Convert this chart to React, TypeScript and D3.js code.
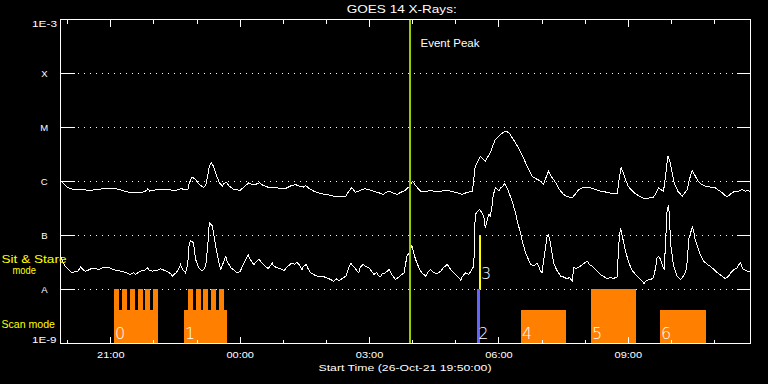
import React from "react";
import * as d3 from "d3";

// ---- data ----
const START = Date.UTC(2021, 9, 26, 19, 50, 0);
const DURATION_MIN = 960;

// GOES long channel (1-8 A), minutes since start / log10 W m^-2
const longMinutes = [0,4,10,18,25,32,39,46,56,63,70,79,86,93,102,109,115,120,121,124,132,139,146,153,157,163,168,173,177,179,183,188,193,199,202,205,207,210,213,217,221,225,227,231,234,241,246,250,256,262,267,271,277,282,288,292,299,306,313,320,327,331,334,338,341,346,352,358,365,373,380,390,397,401,405,408,410,415,419,423,429,435,442,449,454,458,463,468,473,479,485,490,494,498,501,508,515,520,526,531,538,544,551,559,565,570,573,575,577,582,584,589,591,594,598,601,605,612,616,620,625,629,633,639,645,650,656,661,668,672,675,679,683,689,694,700,705,712,717,721,726,733,737,744,751,758,765,775,776,780,783,786,790,798,804,812,818,825,829,832,836,839,842,845,848,851,854,859,865,868,872,875,879,882,887,892,897,904,911,915,921,924,928,932,937,941,943,948,953,957,960];
const longLogFlux = [-5.981,-6.037,-6.111,-6.148,-6.157,-6.148,-6.167,-6.157,-6.139,-6.135,-6.130,-6.139,-6.167,-6.194,-6.209,-6.204,-6.194,-6.167,-6.130,-6.176,-6.157,-6.148,-6.157,-6.157,-6.167,-6.157,-6.130,-6.157,-6.157,-6.037,-5.913,-5.963,-6.056,-6.111,-6.074,-5.889,-5.722,-5.654,-5.722,-5.889,-6.019,-6.087,-6.046,-6.013,-6.074,-6.148,-6.157,-6.161,-6.093,-6.024,-6.056,-6.056,-6.024,-6.074,-6.102,-6.106,-6.111,-6.130,-6.130,-6.083,-6.056,-6.083,-6.087,-6.102,-6.074,-6.130,-6.176,-6.209,-6.231,-6.250,-6.272,-6.272,-6.272,-6.185,-6.117,-6.157,-6.198,-6.176,-6.148,-6.135,-6.148,-6.180,-6.204,-6.241,-6.194,-6.180,-6.213,-6.241,-6.204,-6.167,-6.098,-5.994,-6.074,-6.139,-6.180,-6.194,-6.161,-6.185,-6.194,-6.176,-6.161,-6.185,-6.204,-6.241,-6.204,-6.189,-6.180,-5.963,-5.716,-5.593,-5.531,-5.593,-5.624,-5.556,-5.469,-5.352,-5.222,-5.130,-5.093,-5.068,-5.111,-5.204,-5.283,-5.426,-5.593,-5.741,-5.902,-5.944,-5.994,-6.056,-5.944,-5.809,-5.907,-6.024,-6.148,-6.241,-6.278,-6.302,-6.222,-6.148,-6.120,-6.117,-6.117,-6.148,-6.180,-6.194,-6.213,-6.228,-6.056,-5.746,-5.833,-5.963,-6.093,-6.209,-6.259,-6.320,-6.306,-6.291,-6.204,-6.117,-6.157,-6.180,-5.870,-5.531,-5.630,-5.839,-6.037,-6.180,-6.272,-6.222,-6.148,-5.963,-5.791,-5.870,-5.994,-6.056,-6.087,-6.102,-6.117,-6.157,-6.209,-6.250,-6.283,-6.231,-6.191,-6.194,-6.180,-6.148,-6.180,-6.167,-6.209];

// GOES short channel (0.5-4 A)
const shortMinutes = [0,3,6,9,13,16,21,24,28,31,35,39,43,49,54,58,63,67,71,77,82,86,90,95,97,102,104,109,114,118,121,124,128,132,136,139,145,150,153,156,159,161,164,167,170,174,177,179,181,185,188,192,197,199,202,205,207,211,216,220,223,225,230,232,237,241,246,250,255,261,264,269,273,276,280,285,289,295,296,301,306,311,316,322,326,329,333,336,338,342,345,348,352,357,360,365,369,373,377,380,384,387,390,394,397,401,404,408,412,415,417,421,424,429,433,436,440,442,445,448,452,457,461,463,466,470,473,478,480,482,486,489,491,494,498,501,504,508,512,515,519,524,529,533,538,543,547,551,557,559,564,568,571,575,577,580,583,586,589,591,593,596,598,601,602,605,608,610,612,615,618,621,624,629,633,636,640,643,647,651,654,659,663,665,668,670,672,677,679,682,686,690,696,700,705,708,712,714,718,723,728,733,736,740,744,751,755,761,765,769,775,776,779,782,786,790,795,800,807,812,815,821,825,828,830,832,835,838,840,842,844,846,847,849,853,858,863,867,870,872,874,879,881,883,886,890,895,900,904,909,914,921,925,929,934,937,942,943,946,949,951,956,960];
const shortLogFlux = [-7.383,-7.481,-7.556,-7.598,-7.657,-7.691,-7.661,-7.667,-7.580,-7.630,-7.661,-7.639,-7.611,-7.617,-7.630,-7.602,-7.598,-7.587,-7.620,-7.643,-7.657,-7.667,-7.680,-7.713,-7.722,-7.685,-7.722,-7.680,-7.648,-7.639,-7.598,-7.648,-7.661,-7.639,-7.639,-7.617,-7.648,-7.680,-7.704,-7.754,-7.704,-7.691,-7.630,-7.537,-7.630,-7.691,-7.537,-7.167,-7.093,-7.135,-7.444,-7.593,-7.661,-7.630,-7.569,-7.167,-6.765,-6.815,-7.198,-7.481,-7.630,-7.556,-7.383,-7.481,-7.598,-7.639,-7.691,-7.661,-7.519,-7.352,-7.444,-7.537,-7.481,-7.444,-7.500,-7.569,-7.611,-7.506,-7.556,-7.598,-7.611,-7.648,-7.574,-7.506,-7.537,-7.494,-7.556,-7.630,-7.574,-7.537,-7.630,-7.691,-7.722,-7.754,-7.769,-7.750,-7.783,-7.796,-7.824,-7.846,-7.806,-7.833,-7.815,-7.778,-7.754,-7.593,-7.519,-7.574,-7.648,-7.691,-7.593,-7.537,-7.565,-7.598,-7.667,-7.722,-7.685,-7.741,-7.765,-7.704,-7.691,-7.630,-7.722,-7.759,-7.815,-7.778,-7.741,-7.691,-7.537,-7.383,-7.296,-7.185,-7.296,-7.444,-7.574,-7.661,-7.704,-7.754,-7.667,-7.630,-7.685,-7.704,-7.661,-7.593,-7.537,-7.630,-7.691,-7.741,-7.828,-7.759,-7.691,-7.722,-7.661,-7.569,-6.611,-6.556,-6.519,-6.574,-6.643,-6.857,-6.741,-6.611,-6.643,-6.394,-6.259,-6.117,-6.148,-6.180,-6.117,-6.093,-6.043,-6.111,-6.209,-6.389,-6.580,-6.759,-6.950,-7.130,-7.320,-7.444,-7.537,-7.556,-7.506,-7.556,-7.661,-7.691,-7.481,-7.013,-6.981,-7.167,-7.506,-7.630,-7.754,-7.769,-7.802,-7.778,-7.846,-7.598,-7.611,-7.569,-7.519,-7.476,-7.537,-7.569,-7.630,-7.722,-7.754,-7.802,-7.778,-7.796,-7.765,-7.259,-6.857,-7.037,-7.278,-7.481,-7.639,-7.722,-7.815,-7.889,-7.833,-7.815,-7.783,-7.593,-7.413,-7.389,-7.444,-7.574,-7.630,-7.074,-6.519,-6.444,-6.611,-7.167,-7.569,-7.754,-7.815,-7.741,-7.661,-7.481,-7.074,-6.846,-6.926,-7.074,-7.185,-7.352,-7.476,-7.537,-7.565,-7.630,-7.691,-7.759,-7.796,-7.759,-7.667,-7.630,-7.598,-7.556,-7.506,-7.611,-7.630,-7.661,-7.676];

// y axis
const yLevels = [1e-3, 1e-4, 1e-5, 1e-6, 1e-7, 1e-8, 1e-9];
const yLabels = ["1E-3", "X", "M", "C", "B", "A", "1E-9"];

// observation blocks (minutes since start)
const scanLabels = ["0", "1", "4", "5", "6"];
const scanStarts = [75.1, 172.5, 641.4, 738.8, 834.8];
const scanEnds = [135.9, 232.3, 703.6, 801.0, 898.4];
const scanTall = [false, false, false, true, false];

// tall sub-intervals inside scans 0 and 1
const toothStarts = [75.1, 86.3, 97.4, 108.1, 118.7, 129.4, 178.1, 188.8, 199.4, 210.1, 221.2];
const toothEnds = [82.1, 93.2, 104.3, 115.1, 125.6, 135.9, 185.0, 195.8, 206.3, 217.0, 228.2];

const blueLabel = "2";
const blueStart = 580.6;
const blueEnd = 584.4;

const stareLabel = "3";
const stareStart = 583.0;
const stareEnd = 585.8;

const eventPeakMinute = 487;

const FONT = "'Liberation Sans', Arial, sans-serif";
const NUM_FONT = "'DejaVu Sans', 'Liberation Sans', sans-serif";

export default function App() {
  const W = 768, H = 384;
  const t = (m: number) => new Date(START + m * 60000);
  const x = d3.scaleUtc().domain([t(0), t(DURATION_MIN)]).range([60.5, 750.5]);
  const y = d3.scaleLog().domain([1e-9, 1e-3]).range([343.5, 19.5]);

  const line = d3
    .line<[number, number]>()
    .x((d) => x(t(d[0])))
    .y((d) => y(Math.pow(10, d[1])));

  const longPts = longMinutes.map((m, i) => [m, longLogFlux[i]] as [number, number]);
  const shortPts = shortMinutes.map((m, i) => [m, shortLogFlux[i]] as [number, number]);

  const hourTicks = x.ticks(d3.utcHour.every(1) as any);
  const majorTicks = x.ticks(d3.utcHour.every(3) as any);
  const isMajor = (d: Date) => d.getUTCHours() % 3 === 0;
  const fmt = d3.utcFormat("%H:%M");
  const startFmt = d3.utcFormat("%d-%b-%y %H:%M:%S");

  const left = 60.5, right = 750.5, top = 19.5, bottom = 343.5;
  const rowA = Math.floor(y(1e-8));
  const rowB = Math.floor(y(1e-7));
  const rowBottom = Math.floor(y(1e-9));
  const lowTop = rowA + 21;
  const px = (m: number) => Math.round(x(t(m)) - 0.5);

  return (
    <svg
      width={W}
      height={H}
      style={{ position: "absolute", left: 0, top: 0, background: "#000" }}
      fontFamily={FONT}
    >
      <rect x={0} y={0} width={W} height={H} fill="#000" />

      {/* grid dotted lines */}
      {yLevels.slice(1, -1).map((v, i) => (
        <line
          key={"g" + i}
          x1={78}
          x2={736}
          y1={y(v)}
          y2={y(v)}
          stroke="#fff"
          strokeWidth={1}
          strokeDasharray="1 5"
          shapeRendering="crispEdges"
        />
      ))}

      {/* scan blocks */}
      {scanLabels.map((lab, i) => {
        const x0 = px(scanStarts[i]);
        const x1 = px(scanEnds[i]);
        const yt = scanTall[i] ? rowA : lowTop;
        return (
          <rect key={"s" + i} x={x0} y={yt} width={x1 - x0} height={rowBottom - yt} fill="#ff8000" shapeRendering="crispEdges" />
        );
      })}
      {toothStarts.map((s, i) => {
        const x0 = px(s);
        const x1 = px(toothEnds[i]);
        return <rect key={"t" + i} x={x0} y={rowA} width={x1 - x0} height={lowTop - rowA} fill="#ff8000" shapeRendering="crispEdges" />;
      })}
      <rect x={px(blueStart)} y={rowA} width={px(blueEnd) - px(blueStart)} height={rowBottom - rowA} fill="#6464ff" shapeRendering="crispEdges" />
      <rect x={px(stareStart)} y={rowB} width={px(stareEnd) - px(stareStart)} height={rowA - rowB} fill="#ffff00" shapeRendering="crispEdges" />

      {/* block labels */}
      <g fontFamily={NUM_FONT} fontWeight={200}>
        {scanLabels.map((lab, i) => (
          <text key={"sl" + i} x={x(t(scanStarts[i])) + 0.5} y={339} fill="#fff" fontSize={16}>
            {lab}
          </text>
        ))}
        <text x={x(t(blueStart)) + 0.5} y={339} fill="#fff" fontSize={16}>
          {blueLabel}
        </text>
        <text x={x(t(stareStart)) + 1.5} y={278.5} fill="#fff" fontSize={16}>
          {stareLabel}
        </text>
      </g>

      {/* curves */}
      <path d={line(longPts) || ""} fill="none" stroke="#fff" strokeWidth={1} shapeRendering="crispEdges" />
      <path d={line(shortPts) || ""} fill="none" stroke="#fff" strokeWidth={1} shapeRendering="crispEdges" />

      {/* event peak */}
      <rect x={Math.floor(x(t(eventPeakMinute))) - 1} y={19} width={2} height={325} fill="#99cc00" shapeRendering="crispEdges" />
      <text x={420.5} y={46.7} fill="#fff" fontSize={10} textLength={59} lengthAdjust="spacingAndGlyphs">
        Event Peak
      </text>

      {/* axes box */}
      <line x1={left} x2={left} y1={top - 0.5} y2={bottom + 0.5} stroke="#fff" shapeRendering="crispEdges" />
      <line x1={right} x2={right} y1={top - 0.5} y2={bottom + 0.5} stroke="#fff" shapeRendering="crispEdges" />
      <line x1={left - 0.5} x2={right + 0.5} y1={top} y2={top} stroke="#fff" shapeRendering="crispEdges" />
      <line x1={left - 0.5} x2={right + 0.5} y1={bottom} y2={bottom} stroke="#fff" shapeRendering="crispEdges" />

      {/* y ticks */}
      {yLevels.map((v, i) => (
        <g key={"yt" + i}>
          <line x1={left} x2={left + 14} y1={y(v)} y2={y(v)} stroke="#fff" shapeRendering="crispEdges" />
          <line x1={right - 14} x2={right} y1={y(v)} y2={y(v)} stroke="#fff" shapeRendering="crispEdges" />
        </g>
      ))}
      {yLabels.map((lab, i) => {
        const v = yLevels[i];
        if (i === 0)
          return (
            <text key={"yl" + i} x={57} y={26.7} fill="#fff" fontSize={9.5} textAnchor="end" textLength={25} lengthAdjust="spacingAndGlyphs">
              {lab}
            </text>
          );
        if (i === yLabels.length - 1)
          return (
            <text key={"yl" + i} x={56.5} y={343.3} fill="#fff" fontSize={9.5} textAnchor="end" textLength={24.5} lengthAdjust="spacingAndGlyphs">
              {lab}
            </text>
          );
        return (
          <text key={"yl" + i} x={44.3} y={y(v) + 3.8} fill="#fff" fontSize={9.5} textAnchor="middle">
            {lab}
          </text>
        );
      })}

      {/* x ticks */}
      {hourTicks.map((d, i) => {
        const xx = x(d);
        const len = isMajor(d) ? 7 : 4;
        return (
          <g key={"xt" + i}>
            <line x1={xx} x2={xx} y1={bottom} y2={bottom - len} stroke="#fff" shapeRendering="crispEdges" />
            <line x1={xx} x2={xx} y1={top} y2={top + len} stroke="#fff" shapeRendering="crispEdges" />
          </g>
        );
      })}
      {majorTicks.map((d, i) => (
        <text key={"xl" + i} x={x(d)} y={358.3} fill="#fff" fontSize={9.5} textAnchor="middle" textLength={27.5} lengthAdjust="spacingAndGlyphs">
          {fmt(d)}
        </text>
      ))}
      <text x={405} y={371.3} fill="#fff" fontSize={9.5} textAnchor="middle" textLength={173} lengthAdjust="spacingAndGlyphs">
        {`Start Time (${startFmt(t(0))})`}
      </text>

      {/* title */}
      <text x={401.7} y={13.3} fill="#fff" fontSize={11.8} textAnchor="middle" textLength={110} lengthAdjust="spacingAndGlyphs">
        GOES 14 X-Rays:
      </text>

      {/* mode labels */}
      <text x={1.5} y={263.3} fill="#ffff00" fontSize={10.5} textLength={65} lengthAdjust="spacingAndGlyphs">
        Sit &amp; Stare
      </text>
      <text x={24.3} y={274.3} fill="#ffff00" fontSize={10.5} textAnchor="middle" textLength={23.5} lengthAdjust="spacingAndGlyphs">
        mode
      </text>
      <text x={1.5} y={328.3} fill="#ffff00" fontSize={10.5} textLength={53.5} lengthAdjust="spacingAndGlyphs">
        Scan mode
      </text>
    </svg>
  );
}
